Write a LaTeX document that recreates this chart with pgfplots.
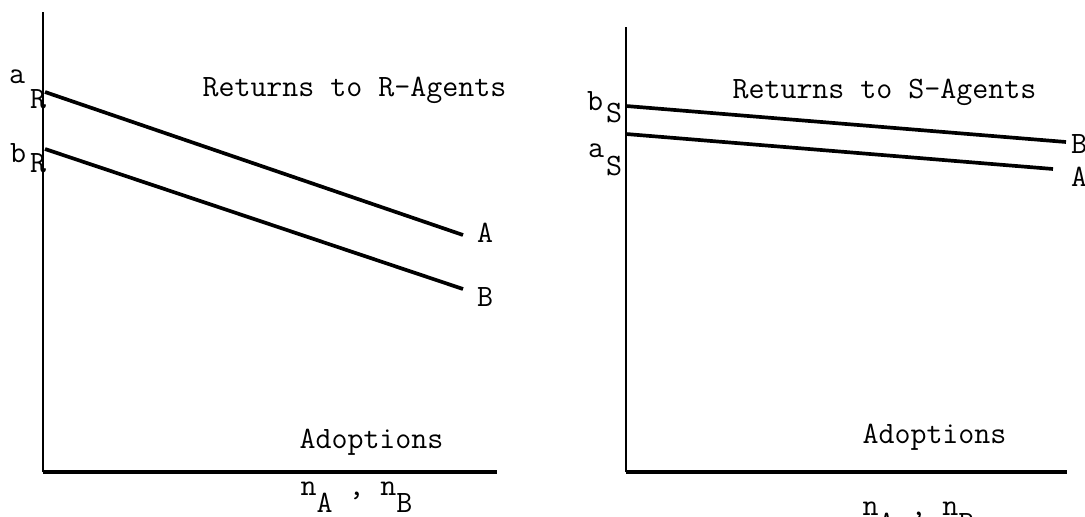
\documentclass[border=0pt]{standalone}
\usepackage{pgfplots}
\pgfplotsset{compat=1.18}
\usepackage{fontspec}

% one unit = one pixel of the 1085x516 scan (0.38pt)
\pgfplotsset{
  panel/.style={
    x=0.38pt, y=0.38pt,
    anchor=south west,
    axis lines=left,
    axis line style={-, black},
    x axis line style={line width=1.2pt},
    y axis line style={line width=0.7pt},
    xtick=\empty, ytick=\empty,
    enlargelimits=false,
    clip=false,
    ymin=44,
  },
}
\tikzset{
  curve/.style={black, line width=1.4pt, mark=none},
  lt/.style={inner sep=0pt,
    font=\ttfamily\fontsize{11.8}{14}\selectfont\addfontfeature{FakeBold=1.5}},
}
\newcommand{\sub}[1]{\raisebox{-6.8pt}{#1}}

\begin{document}
\begin{tikzpicture}
\path[use as bounding box, clip] (0,0) rectangle (412.3pt,196.08pt);

% Returns to R-Agents
\begin{axis}[panel, at={(16.34pt,16.72pt)}, xmin=43, xmax=497, ymax=504]
  \addplot[curve] coordinates {(45,424) (463,281)};
  \addplot[curve] coordinates {(45,367) (463,227)};
  \node[lt] at (17,439) {a};
  \node[lt] at (38,417) {R};
  \node[lt] at (18,363) {b};
  \node[lt] at (38,353) {R};
  \node[lt, anchor=base west] at (202,419) {Returns to R-Agents};
  \node[lt] at (485,283) {A};
  \node[lt] at (485,219) {B};
  \node[lt, anchor=base west] at (299,68) {Adoptions};
  \node[lt, anchor=base west] at (300,21) {n\sub{A} , n\sub{B}};
\end{axis}

% Returns to S-Agents
\begin{axis}[panel, at={(237.88pt,16.72pt)}, xmin=626, xmax=1067, ymax=489,
    x axis line style={line width=1.5pt}]
  \addplot[curve] coordinates {(626,410) (1066,374)};
  \addplot[curve] coordinates {(626,382) (1053,347)};
  \node[lt] at (595,415) {b};
  \node[lt] at (614,403) {S};
  \node[lt] at (596,365) {a};
  \node[lt] at (614,350) {S};
  \node[lt, anchor=base west] at (732,417) {Returns to S-Agents};
  \node[lt] at (1079,372) {B};
  \node[lt] at (1079,339) {A};
  \node[lt, anchor=base west] at (862,73) {Adoptions};
  \node[lt, anchor=base west] at (862,1) {n\sub{A} , n\sub{B}};
\end{axis}
\end{tikzpicture}
\end{document}
